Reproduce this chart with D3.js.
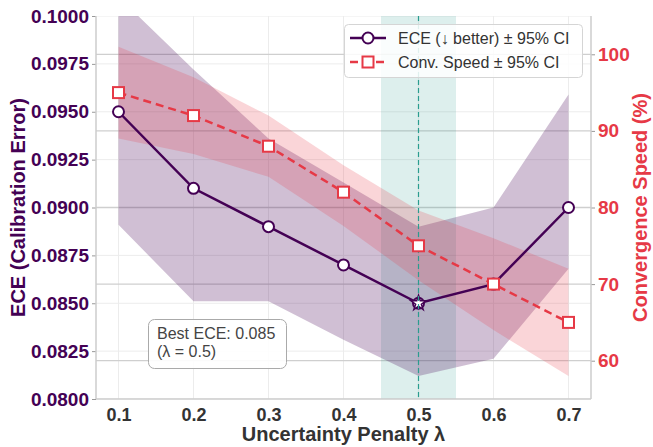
<!DOCTYPE html>
<html>
<head>
<meta charset="utf-8">
<script src="https://cdn.jsdelivr.net/npm/d3@7"></script>
<style>
  html, body { margin: 0; padding: 0; background: #fff; }
  svg { display: block; font-family: "Liberation Sans", Arial, sans-serif; }
</style>
</head>
<body>
<div id="chart"></div>
<script>
// data
const lambdas = [0.1, 0.2, 0.3, 0.4, 0.5, 0.6, 0.7];
const ece = [0.095, 0.091, 0.089, 0.087, 0.085, 0.086, 0.090];
const eceLow = [0.0891, 0.0851, 0.0851, 0.0831, 0.0812, 0.0821, 0.0868];
const eceHigh = [0.1010, 0.0972, 0.0936, 0.0913, 0.0890, 0.0900, 0.0959];
const speed = [95, 92, 88, 82, 75, 70, 65];
const speedLow = [89, 87, 84, 77.6, 70.5, 64, 58];
const speedHigh = [101, 97, 92, 85.5, 79.6, 76, 72];
const eceTicks = [0.08, 0.0825, 0.085, 0.0875, 0.09, 0.0925, 0.095, 0.0975, 0.1];
const speedTicks = [60, 70, 80, 90, 100];
const bestLambda = 0.5;
const bestEce = 0.085;

const W = 653, H = 447;
const m = { left: 96, right: 62, top: 16, bottom: 48 };
const purple = '#440154', red = '#e63946', teal = '#2a9d8f';

const svg = d3.select('#chart').append('svg').attr('width', W).attr('height', H);

const x = d3.scaleLinear().domain([0.07, 0.73]).range([m.left, W - m.right]);
const y1 = d3.scaleLinear().domain([0.08, 0.1]).range([H - m.bottom, m.top]);
const y2 = d3.scaleLinear().domain([55, 105]).range([H - m.bottom, m.top]);

svg.append('defs').append('clipPath').attr('id', 'clip')
  .append('rect').attr('x', m.left).attr('y', m.top)
  .attr('width', W - m.left - m.right).attr('height', H - m.top - m.bottom);

const plot = svg.append('g').attr('clip-path', 'url(#clip)');

// light grids (left axis + x)
plot.append('g').selectAll('line').data(lambdas).join('line')
  .attr('x1', d => x(d)).attr('x2', d => x(d))
  .attr('y1', m.top).attr('y2', H - m.bottom)
  .attr('stroke', '#ececec').attr('stroke-width', 1);
plot.append('g').selectAll('line').data(eceTicks).join('line')
  .attr('x1', m.left).attr('x2', W - m.right)
  .attr('y1', d => y1(d)).attr('y2', d => y1(d))
  .attr('stroke', '#ececec').attr('stroke-width', 1);
// right axis grid
plot.append('g').selectAll('line').data(speedTicks).join('line')
  .attr('x1', m.left).attr('x2', W - m.right)
  .attr('y1', d => y2(d)).attr('y2', d => y2(d))
  .attr('stroke', '#cfcfcf').attr('stroke-width', 1.3);

// highlighted span around the best lambda
plot.append('rect')
  .attr('x', x(bestLambda - 0.05)).attr('width', x(bestLambda + 0.05) - x(bestLambda - 0.05))
  .attr('y', m.top).attr('height', H - m.top - m.bottom)
  .attr('fill', teal).attr('fill-opacity', 0.16);

const idx = d3.range(lambdas.length);

// CI bands
plot.append('path')
  .attr('d', d3.area().x(i => x(lambdas[i])).y0(i => y1(eceLow[i])).y1(i => y1(eceHigh[i]))(idx))
  .attr('fill', purple).attr('fill-opacity', 0.25);
plot.append('path')
  .attr('d', d3.area().x(i => x(lambdas[i])).y0(i => y2(speedLow[i])).y1(i => y2(speedHigh[i]))(idx))
  .attr('fill', red).attr('fill-opacity', 0.21);

// ECE line
plot.append('path')
  .attr('d', d3.line().x(i => x(lambdas[i])).y(i => y1(ece[i]))(idx))
  .attr('fill', 'none').attr('stroke', purple).attr('stroke-width', 2.5);
plot.append('g').selectAll('circle').data(idx).join('circle')
  .attr('cx', i => x(lambdas[i])).attr('cy', i => y1(ece[i])).attr('r', 5.5)
  .attr('fill', '#fff').attr('stroke', purple).attr('stroke-width', 2);

// best point star
plot.append('path')
  .attr('transform', `translate(${x(bestLambda)},${y1(bestEce)})`)
  .attr('d', d3.symbol(d3.symbolStar, 70)())
  .attr('fill', '#fff').attr('stroke', purple).attr('stroke-width', 1.5);

// vertical dashed marker
plot.append('line')
  .attr('x1', x(bestLambda)).attr('x2', x(bestLambda))
  .attr('y1', m.top).attr('y2', H - m.bottom)
  .attr('stroke', teal).attr('stroke-width', 1.2).attr('stroke-dasharray', '5,3');

// speed line
plot.append('path')
  .attr('d', d3.line().x(i => x(lambdas[i])).y(i => y2(speed[i]))(idx))
  .attr('fill', 'none').attr('stroke', red).attr('stroke-width', 2.5)
  .attr('stroke-dasharray', '8,5');
plot.append('g').selectAll('rect').data(idx).join('rect')
  .attr('x', i => x(lambdas[i]) - 5.5).attr('y', i => y2(speed[i]) - 5.5)
  .attr('width', 11).attr('height', 11)
  .attr('fill', '#fff').attr('stroke', red).attr('stroke-width', 2);

// axes
const left = svg.append('g').attr('transform', `translate(${m.left},0)`)
  .call(d3.axisLeft(y1).tickValues(eceTicks).tickFormat(d3.format('.4f')).tickSize(4).tickPadding(3));
left.selectAll('text').attr('fill', purple).style('font-size', '19px').style('font-weight', 'bold');

const right = svg.append('g').attr('transform', `translate(${W - m.right},0)`)
  .call(d3.axisRight(y2).tickValues(speedTicks).tickSize(4).tickPadding(3));
right.selectAll('text').attr('fill', red).style('font-size', '19px').style('font-weight', 'bold');

const bottom = svg.append('g').attr('transform', `translate(0,${H - m.bottom})`)
  .call(d3.axisBottom(x).tickValues(lambdas).tickFormat(d3.format('.1f')).tickSize(0).tickPadding(9));
bottom.selectAll('text').attr('fill', '#333').style('font-size', '18px').style('font-weight', 'bold');

svg.selectAll('.domain').remove();
svg.selectAll('.tick line').attr('stroke', '#999');

// spines
const spine = svg.append('g').attr('stroke', '#cccccc').attr('stroke-width', 1.5);
spine.append('line').attr('x1', m.left).attr('x2', m.left).attr('y1', m.top).attr('y2', H - m.bottom);
spine.append('line').attr('x1', W - m.right).attr('x2', W - m.right).attr('y1', m.top).attr('y2', H - m.bottom);
spine.append('line').attr('x1', m.left).attr('x2', W - m.right).attr('y1', H - m.bottom).attr('y2', H - m.bottom);

// axis titles
svg.append('text')
  .attr('transform', `translate(25,${(m.top + H - m.bottom) / 2}) rotate(-90)`)
  .attr('text-anchor', 'middle').attr('fill', purple)
  .style('font-size', '20px').style('font-weight', 'bold')
  .text('ECE (Calibration Error)');
svg.append('text')
  .attr('transform', `translate(647,${(m.top + H - m.bottom) / 2}) rotate(-90)`)
  .attr('text-anchor', 'middle').attr('fill', red)
  .style('font-size', '20px').style('font-weight', 'bold')
  .text('Convergence Speed (%)');
svg.append('text')
  .attr('x', (m.left + W - m.right) / 2).attr('y', 441)
  .attr('text-anchor', 'middle').attr('fill', '#333')
  .style('font-size', '20px').style('font-weight', 'bold')
  .text('Uncertainty Penalty λ');

// legend
const lg = svg.append('g');
lg.append('rect').attr('x', 344.5).attr('y', 24.5).attr('width', 238).attr('height', 53).attr('rx', 4)
  .attr('fill', '#fff').attr('fill-opacity', 0.85).attr('stroke', '#d5d5d5');
lg.append('line').attr('x1', 350).attr('x2', 386).attr('y1', 38).attr('y2', 38)
  .attr('stroke', purple).attr('stroke-width', 2.5);
lg.append('circle').attr('cx', 368).attr('cy', 38).attr('r', 5.5)
  .attr('fill', '#fff').attr('stroke', purple).attr('stroke-width', 2);
lg.append('line').attr('x1', 350).attr('x2', 386).attr('y1', 62).attr('y2', 62)
  .attr('stroke', red).attr('stroke-width', 2.5).attr('stroke-dasharray', '8,5');
lg.append('rect').attr('x', 362.5).attr('y', 56.5).attr('width', 11).attr('height', 11)
  .attr('fill', '#fff').attr('stroke', red).attr('stroke-width', 2);
lg.append('text').attr('x', 398).attr('y', 44).attr('fill', '#333').style('font-size', '16px')
  .text('ECE (↓ better) ± 95% CI');
lg.append('text').attr('x', 398).attr('y', 68).attr('fill', '#333').style('font-size', '16px')
  .text('Conv. Speed ± 95% CI');

// annotation
const an = svg.append('g');
an.append('rect').attr('x', 148.5).attr('y', 319.5).attr('width', 138).attr('height', 49).attr('rx', 6)
  .attr('fill', '#fff').attr('fill-opacity', 0.9).attr('stroke', '#aaa');
an.append('text').attr('x', 157).attr('y', 338.5).attr('fill', '#444').style('font-size', '16px')
  .text('Best ECE: ' + bestEce.toFixed(3));
an.append('text').attr('x', 157).attr('y', 356.5).attr('fill', '#444').style('font-size', '16px')
  .text('(λ = ' + bestLambda + ')');
</script>
</body>
</html>
